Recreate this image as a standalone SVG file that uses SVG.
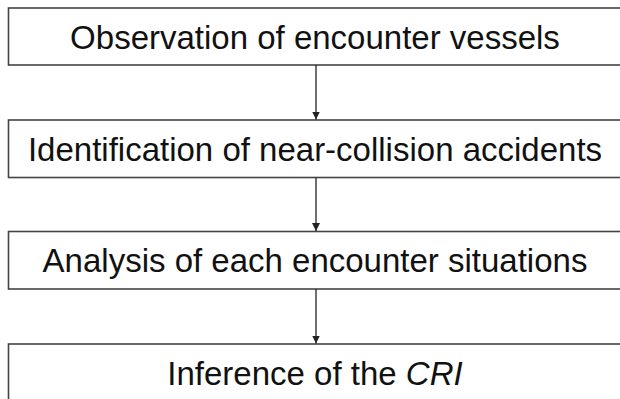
<svg xmlns="http://www.w3.org/2000/svg" width="620" height="399" viewBox="0 0 620 399">
<defs>
<marker id="ah" markerWidth="8" markerHeight="10" refX="8" refY="4" orient="auto" markerUnits="userSpaceOnUse">
<path d="M0,0 L8,4 L0,8 Z" fill="#222"/>
</marker>
<style>
.box{fill:#fff;stroke:#444;stroke-width:1.6}
.lbl{font-family:"Liberation Sans",Arial,sans-serif;font-size:33px;fill:#111;text-anchor:middle}
.con{stroke:#222;stroke-width:1.3;fill:none}
</style>
</defs>
<rect width="620" height="399" fill="#fff"/>
<g id="n1"><rect class="box" x="8.5" y="8" width="616" height="57"/><text class="lbl" x="315" y="48.5">Observation of encounter vessels</text></g>
<g id="n2"><rect class="box" x="8.5" y="120" width="616" height="57.5"/><text class="lbl" x="315" y="160.5">Identification of near-collision accidents</text></g>
<g id="n3"><rect class="box" x="8.5" y="231.5" width="616" height="57.5"/><text class="lbl" x="315" y="272">Analysis of each encounter situations</text></g>
<g id="n4"><rect class="box" x="8.5" y="344" width="616" height="60"/><text class="lbl" x="315" y="385">Inference of the <tspan font-style="italic">CRI</tspan></text></g>
<g id="connectors">
<line class="con" x1="316" y1="65" x2="316" y2="119.5" marker-end="url(#ah)"/>
<line class="con" x1="316" y1="177.5" x2="316" y2="231" marker-end="url(#ah)"/>
<line class="con" x1="316" y1="289" x2="316" y2="343.5" marker-end="url(#ah)"/>
</g>
</svg>
